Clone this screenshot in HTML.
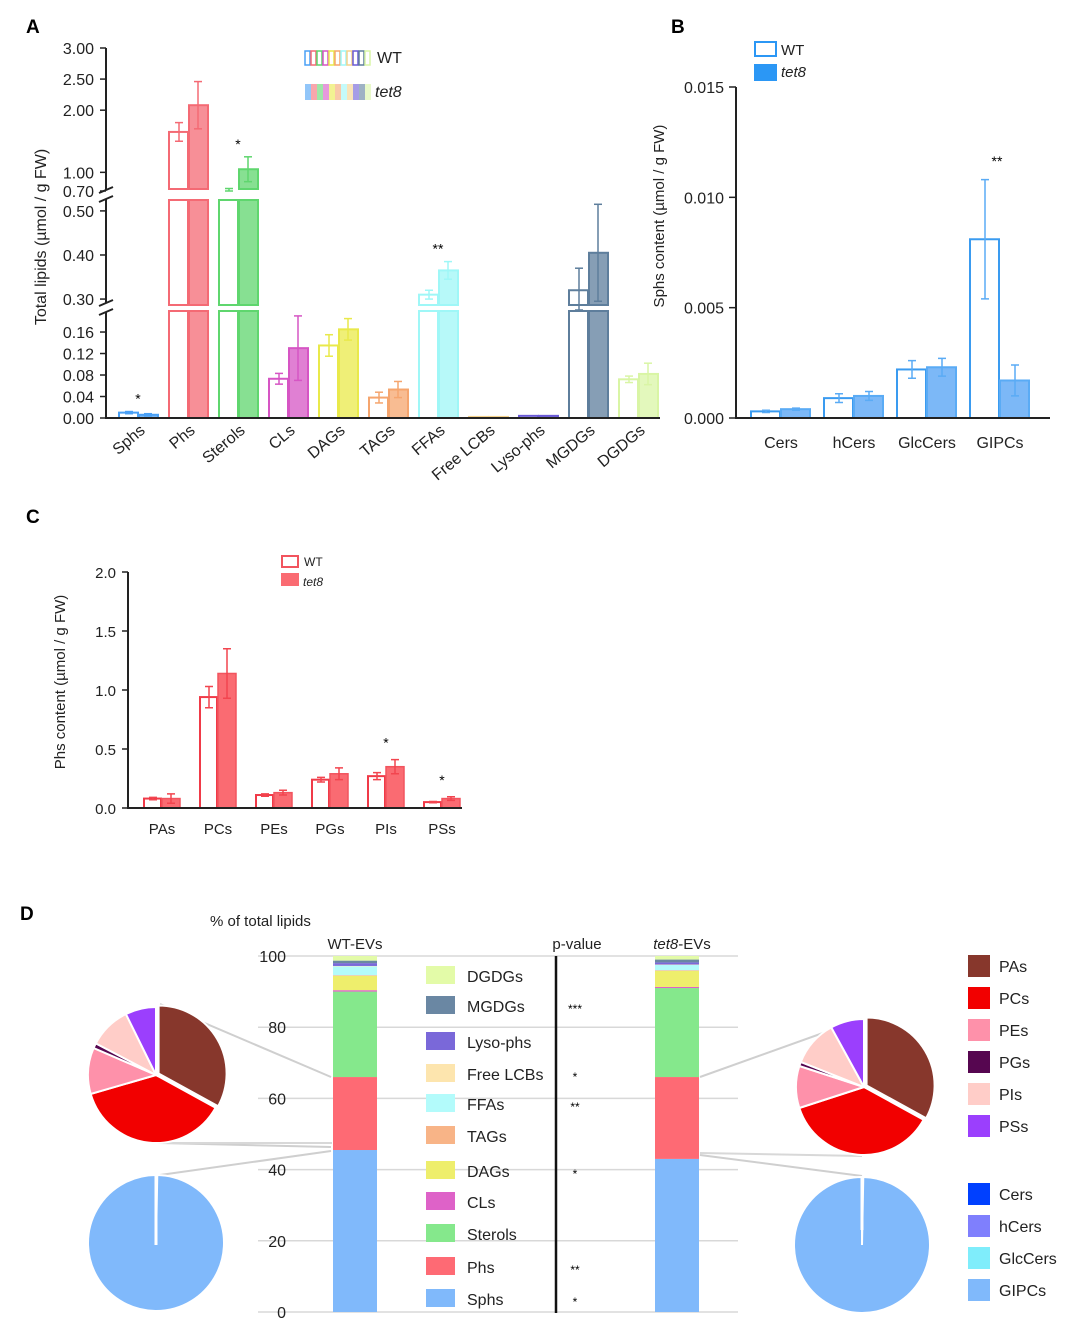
<!DOCTYPE html>
<html><head><meta charset="utf-8"><style>
body{margin:0;background:#fff;}
svg{display:block;font-family:"Liberation Sans",Arial,sans-serif;}
</style></head><body>
<svg id="s" width="1080" height="1329" viewBox="0 0 1080 1329" xmlns="http://www.w3.org/2000/svg">
<text x="26" y="33" font-size="19" font-weight="bold">A</text>
<text x="671" y="33" font-size="19" font-weight="bold">B</text>
<text x="26" y="523" font-size="19" font-weight="bold">C</text>
<text x="20" y="920" font-size="19" font-weight="bold">D</text>
<g id="A"></g><g id="B"></g><g id="C"></g><g id="D"></g>
</svg>
<script>
// ---------- Panel A data ----------
const aCats=["Sphs","Phs","Sterols","CLs","DAGs","TAGs","FFAs","Free LCBs","Lyso-phs","MGDGs","DGDGs"];
const aWT=[0.010,1.65,0.72,0.073,0.135,0.038,0.31,0.002,0.004,0.32,0.072];
const aTet=[0.006,2.08,1.05,0.130,0.165,0.053,0.365,0.002,0.004,0.405,0.082];
const aWTerr=[0.002,0.15,0.02,0.01,0.02,0.01,0.01,0,0,0.05,0.006];
const aTetErr=[0.002,0.38,0.2,0.06,0.02,0.015,0.02,0,0,0.11,0.02];
const aStars=["*","","*","","","","**","","","",""];
const aColors=["#4aa0f5","#f46a74","#5fd66e","#d655c4","#e9e94a","#f5a56e","#9ff7f7","#f5d28a","#6a5ad6","#5e7e9c","#d9f5a5"];
const aTicks=[[3,"3.00"],[2.5,"2.50"],[2,"2.00"],[1,"1.00"],[0.7,"0.70"],[0.5,"0.50"],[0.4,"0.40"],[0.3,"0.30"],[0.16,"0.16"],[0.12,"0.12"],[0.08,"0.08"],[0.04,"0.04"],[0,"0.00"]];
// ---------- Panel B data ----------
const bCats=["Cers","hCers","GlcCers","GIPCs"];
const bWT=[0.0003,0.0009,0.0022,0.0081];
const bTet=[0.0004,0.0010,0.0023,0.0017];
const bWTerr=[0.00005,0.0002,0.0004,0.0027];
const bTetErr=[0.00005,0.0002,0.0004,0.0007];
const bTicks=[0,0.005,0.010,0.015];
// ---------- Panel C data ----------
const cCats=["PAs","PCs","PEs","PGs","PIs","PSs"];
const cWT=[0.08,0.94,0.11,0.24,0.27,0.05];
const cTet=[0.08,1.14,0.13,0.29,0.35,0.08];
const cWTerr=[0.01,0.09,0.01,0.02,0.03,0.005];
const cTetErr=[0.04,0.21,0.02,0.05,0.06,0.015];
const cStars=["","","","","*","*"];
const cTicks=[0,0.5,1.0,1.5,2.0];
// ---------- Panel D data ----------
const dCats=["Sphs","Phs","Sterols","CLs","DAGs","TAGs","FFAs","Free LCBs","Lyso-phs","MGDGs","DGDGs"];
const dWT=[45.5,20.5,24,0.4,4,0.2,2.5,0.1,0.8,0.7,1.3];
const dTet=[43,23,25,0.3,4.5,0.2,1.5,0.1,0.6,0.8,1.0];
const dColors=["#80b9fb","#fe6a74","#85e88c","#de62c8","#eeee6c","#f8b487","#b3fbfb","#fde5ae","#7a68d9","#6a87a3","#e3fba8"];
const dP=["*","**","","","*","","**","*","","***",""];
const dTicks=[0,20,40,60,80,100];
const phCats=["PAs","PCs","PEs","PGs","PIs","PSs"];
const phColors=["#87372c","#f20000","#fe91aa","#560650","#ffcdc8","#9b3ffd"];
const phWT=[33,37.5,11,1.2,10,7.3];
const phTet=[33,37,10,1,11,8];
const spCats=["Cers","hCers","GlcCers","GIPCs"];
const spColors=["#0040ff","#7f7ffd","#7fedfb","#80b9fb"];
const spWT=[0.1,0.1,0.1,99.7];
const spTet=[0.1,0.1,0.1,99.7];

const NS="http://www.w3.org/2000/svg";
function el(parent,tag,attrs,text){const e=document.createElementNS(NS,tag);for(const k in attrs)e.setAttribute(k,attrs[k]);if(text!==undefined)e.textContent=text;parent.appendChild(e);return e;}

// ===== Panel A =====
const A=document.getElementById('A');
const segs=[{lo:0,hi:0.201,y0:418,y1:310},{lo:0.282,hi:0.527,y0:307,y1:199},{lo:0.7,hi:3.0,y0:191,y1:48}];
function yA(v){for(const s of segs){if(v<=s.hi+1e-9&&v>=s.lo-1e-9)return s.y0-(v-s.lo)/(s.hi-s.lo)*(s.y0-s.y1);}return v>3?48:0;}
function yAclamp(v){if(v<=segs[0].hi)return yA(v);if(v<segs[1].lo)return segs[0].y1;if(v<=segs[1].hi)return yA(v);if(v<segs[2].lo)return segs[1].y1;return yA(v);}
const xA=i=>138+i*50;
function barA(i,v,wt,col){
  const x=wt?xA(i)-20:xA(i);
  segs.forEach((s,k)=>{
    if(v<=s.lo)return;
    const top=v>=s.hi?s.y1+(k<2?1:0):yA(v);
    const bot=s.y0-(k>0?2:0);
    const r=el(A,'rect',{x:x+1,y:top,width:19,height:Math.max(0,bot-top),fill:wt?'#fff':col,'fill-opacity':wt?1:0.75,stroke:col,'stroke-width':2});
    
    
  });
}
aCats.forEach((c,i)=>{
  barA(i,aWT[i],true,aColors[i]);barA(i,aTet[i],false,aColors[i]);
  [[aWT[i],aWTerr[i],xA(i)-9],[aTet[i],aTetErr[i],xA(i)+10]].forEach(([v,e,x])=>{
    if(e<=0)return;
    const y1=yAclamp(v+e),y2=yAclamp(v-e);
    el(A,'line',{x1:x,x2:x,y1:y1,y2:y2,stroke:aColors[i],'stroke-width':1.5});
    el(A,'line',{x1:x-4,x2:x+4,y1:y1,y2:y1,stroke:aColors[i],'stroke-width':1.5});
    el(A,'line',{x1:x-4,x2:x+4,y1:y2,y2:y2,stroke:aColors[i],'stroke-width':1.5});
  });
  if(aStars[i]){const t=el(A,'text',{x:xA(i),y:yAclamp(Math.max(aTet[i]+aTetErr[i],aWT[i]+aWTerr[i]))-8,'font-size':14,'text-anchor':'middle'},aStars[i]);}
  const lab=el(A,'text',{transform:`translate(${xA(i)+8},432) rotate(-40)`,'font-size':16,'text-anchor':'end','fill':'#222'},c);
  
  
});
el(A,'path',{d:'M106,48 V190 M106,199 V303 M106,312 V418 H660',stroke:'#222',fill:'none','stroke-width':2});
[[190,199],[303,312]].forEach(([a,b])=>{el(A,'path',{d:`M99,${a+3} L113,${a-3} M99,${b+3} L113,${b-3}`,stroke:'#222','stroke-width':2,fill:'none'});});
aTicks.forEach(([v,l])=>{const y=yA(v);el(A,'line',{x1:100,x2:106,y1:y,y2:y,stroke:'#222','stroke-width':1.5});const t=el(A,'text',{x:94,y:y+6,'font-size':16,'text-anchor':'end',fill:'#222'},l);});
{const t=el(A,'text',{transform:'translate(46,237) rotate(-90)','font-size':16,'text-anchor':'middle',fill:'#222'},'Total lipids (µmol / g FW)');}
aColors.forEach((c,i)=>{const x=305+i*6;
  el(A,'rect',{x:x,y:51,width:5,height:14,fill:'#fff',stroke:c,'stroke-width':1.5});
  el(A,'rect',{x:x,y:84,width:6,height:16,fill:c,'fill-opacity':0.6});});
{const t=el(A,'text',{x:377,y:63,'font-size':16,fill:'#222'},'WT');
const u=el(A,'text',{x:375,y:97,'font-size':16,'font-style':'italic',fill:'#222'},'tet8');}

// ===== Panel B =====
const B=document.getElementById('B');
const yB=v=>418-v/0.015*331;
const xB=i=>781+i*73;
bCats.forEach((c,i)=>{
  const x=xB(i);
  const r1=el(B,'rect',{x:x-30,y:yB(bWT[i]),width:29,height:418-yB(bWT[i]),fill:'#fff',stroke:'#3a9bf0','stroke-width':2});
  
  const r2=el(B,'rect',{x:x,y:yB(bTet[i]),width:29,height:418-yB(bTet[i]),fill:'#7cb8f7',stroke:'#5aabf5','stroke-width':2});
  
  [[bWT[i],bWTerr[i],x-15],[bTet[i],bTetErr[i],x+15]].forEach(([v,e,xx])=>{const a=yB(v+e),b=yB(v-e);
    el(B,'path',{d:`M${xx},${a}V${b}M${xx-4},${a}H${xx+4}M${xx-4},${b}H${xx+4}`,stroke:'#5aabf5','stroke-width':1.5,fill:'none'});});
  const t=el(B,'text',{x:x,y:448,'font-size':16,'text-anchor':'middle',fill:'#222'},c);
});
{const s=el(B,'text',{x:xB(3)-3,y:yB(0.0115)+2,'font-size':14,'text-anchor':'middle'},'**');}
el(B,'path',{d:'M736,87 V418 H1050',stroke:'#222','stroke-width':2,fill:'none'});
bTicks.forEach(v=>{const y=yB(v);el(B,'line',{x1:729,x2:736,y1:y,y2:y,stroke:'#222','stroke-width':1.5});const t=el(B,'text',{x:724,y:y+6,'font-size':16,'text-anchor':'end',fill:'#222'},v.toFixed(3));});
{const t=el(B,'text',{transform:'translate(664,216) rotate(-90)','font-size':15,'text-anchor':'middle',fill:'#222'},'Sphs content (µmol / g FW)');}
el(B,'rect',{x:755,y:42,width:21,height:14,fill:'#fff',stroke:'#2b97f5','stroke-width':2});
el(B,'rect',{x:754,y:64,width:23,height:17,fill:'#2b97f5'});
{const t=el(B,'text',{x:781,y:55,'font-size':15,fill:'#222'},'WT');
const u=el(B,'text',{x:781,y:77,'font-size':15,'font-style':'italic',fill:'#222'},'tet8');}

// ===== Panel C =====
const C=document.getElementById('C');
const yC=v=>808-v*118;
const xC=i=>162+i*56;
cCats.forEach((c,i)=>{const x=xC(i);
  const r1=el(C,'rect',{x:x-18,y:yC(cWT[i]),width:17,height:808-yC(cWT[i]),fill:'#fff',stroke:'#f03a48','stroke-width':2});
  
  const r2=el(C,'rect',{x:x,y:yC(cTet[i]),width:18,height:808-yC(cTet[i]),fill:'#fa6b72',stroke:'#f2545e','stroke-width':1.5});
  
  [[cWT[i],cWTerr[i],x-9],[cTet[i],cTetErr[i],x+9]].forEach(([v,e,xx])=>{const a=yC(v+e),b=yC(v-e);
    el(C,'path',{d:`M${xx},${a}V${b}M${xx-4},${a}H${xx+4}M${xx-4},${b}H${xx+4}`,stroke:'#f2454f','stroke-width':1.5,fill:'none'});});
  if(cStars[i]){const s=el(C,'text',{x:x,y:yC(cTet[i]+cTetErr[i])-12,'font-size':14,'text-anchor':'middle'},cStars[i]);}
  const t=el(C,'text',{x:x,y:834,'font-size':15,'text-anchor':'middle',fill:'#222'},c);
});
el(C,'path',{d:'M128,572 V808 H462',stroke:'#222','stroke-width':2,fill:'none'});
cTicks.forEach(v=>{const y=yC(v);el(C,'line',{x1:122,x2:128,y1:y,y2:y,stroke:'#222','stroke-width':1.5});const t=el(C,'text',{x:116,y:y+6,'font-size':15,'text-anchor':'end',fill:'#222'},v.toFixed(1));});
{const t=el(C,'text',{transform:'translate(65,682) rotate(-90)','font-size':15,'text-anchor':'middle',fill:'#222'},'Phs content (µmol / g FW)');}
el(C,'rect',{x:282,y:556,width:16,height:11,fill:'#fff',stroke:'#f2545e','stroke-width':2});
el(C,'rect',{x:281,y:573,width:18,height:13,fill:'#fa6b72'});
{const t=el(C,'text',{x:304,y:566,'font-size':12,fill:'#222'},'WT');
const u=el(C,'text',{x:303,y:586,'font-size':12,'font-style':'italic',fill:'#222'},'tet8');}

// ===== Panel D =====
const D=document.getElementById('D');
const yD=v=>1312-v*3.56;
dTicks.forEach(v=>{const y=yD(v);el(D,'line',{x1:258,x2:738,y1:y,y2:y,stroke:'#d8d8d8','stroke-width':1.5});const t=el(D,'text',{x:286,y:y+6,'font-size':16,'text-anchor':'end',fill:'#222'},v);});
el(D,'text',{x:210,y:926,'font-size':15,fill:'#222'},'% of total lipids');
el(D,'text',{x:355,y:949,'font-size':15,'text-anchor':'middle',fill:'#222'},'WT-EVs');
el(D,'text',{x:577,y:949,'font-size':15,'text-anchor':'middle',fill:'#222'},'p-value');
{const t=el(D,'text',{x:682,y:949,'font-size':15,'text-anchor':'middle',fill:'#222'});el(t,'tspan',{'font-style':'italic'},'tet8');el(t,'tspan',{},'-EVs');}
function stack(vals,x,name){let acc=0;vals.forEach((v,i)=>{const r=el(D,'rect',{x:x,y:yD(acc+v),width:44,height:v*3.56,fill:dColors[i]});
  
  acc+=v;});}
stack(dWT,333,'wt');stack(dTet,655,'tet8');
el(D,'line',{x1:556,x2:556,y1:956,y2:1313,stroke:'#111','stroke-width':2.5});
const legY=[1298,1266,1233,1201,1170,1135,1103,1073,1041,1005,975];
dCats.forEach((c,i)=>{const y=legY[i];
  el(D,'rect',{x:426,y:y-9,width:29,height:18,fill:dColors[i]});
  const t=el(D,'text',{x:467,y:y+7,'font-size':16,fill:'#222'},c);
  if(dP[i]){const s=el(D,'text',{x:575,y:y+8,'font-size':12,'text-anchor':'middle'},dP[i]);}
});
[[160,1004,331,1077],[160,1143,331,1147],[160,1175,331,1151],[700,1077,862,1019],[700,1155,862,1176]].forEach(([a,b,c,d])=>el(D,'line',{x1:a,y1:b,x2:c,y2:d,stroke:'#cfcfcf','stroke-width':2}));
el(D,'line',{x1:157,y1:1143,x2:332,y2:1143,stroke:'#d8d8d8','stroke-width':2});
el(D,'line',{x1:700,y1:1153,x2:862,y2:1156,stroke:'#d8d8d8','stroke-width':2});
function pie(cx,cy,r,vals,cols,name,cats,explode){const tot=vals.reduce((a,b)=>a+b,0);let a0=-Math.PI/2;
  vals.forEach((v,i)=>{const a1=a0+v/tot*2*Math.PI;const mid=(a0+a1)/2;const ex=(i===0&&explode)?3:0;
    const ox=cx+ex*Math.cos(mid),oy=cy+ex*Math.sin(mid);
    const p=el(D,'path',{d:`M${ox},${oy} L${ox+r*Math.cos(a0)},${oy+r*Math.sin(a0)} A${r},${r} 0 ${a1-a0>Math.PI?1:0} 1 ${ox+r*Math.cos(a1)},${oy+r*Math.sin(a1)} Z`,fill:cols[i],stroke:'#fff','stroke-width':2});
    a0=a1;});}
pie(156,1075,68,phWT,phColors,'wt-phs-pie',phCats,true);
pie(864,1087,68,phTet,phColors,'tet8-phs-pie',phCats,true);
pie(156,1243,68,spWT,spColors,'wt-sphs-pie',spCats,false);
pie(862,1245,68,spTet,spColors,'tet8-sphs-pie',spCats,false);
el(D,'line',{x1:156,y1:1175,x2:156,y2:1245,stroke:'#fff','stroke-width':3});
el(D,'line',{x1:862,y1:1177,x2:862,y2:1230,stroke:'#fff','stroke-width':3});
phCats.forEach((c,i)=>{const y=965+i*32;el(D,'rect',{x:968,y:y-10,width:22,height:22,fill:phColors[i]});
  const t=el(D,'text',{x:999,y:y+7,'font-size':16,fill:'#222'},c);});
spCats.forEach((c,i)=>{const y=1193+i*32;el(D,'rect',{x:968,y:y-10,width:22,height:22,fill:spColors[i]});
  const t=el(D,'text',{x:999,y:y+7,'font-size':16,fill:'#222'},c);});
</script>
</body></html>
